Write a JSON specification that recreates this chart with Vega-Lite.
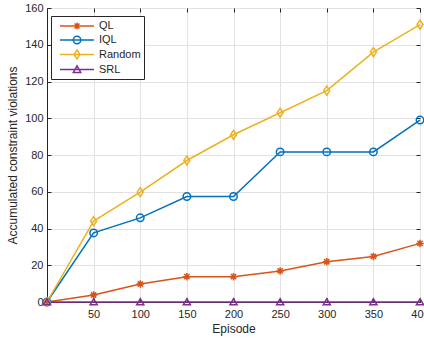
{
  "$schema": "https://vega.github.io/schema/vega-lite/v6.json",
  "width": 373,
  "height": 294,
  "autosize": {"type": "none"},
  "padding": {"left": 47, "top": 8, "right": 4, "bottom": 39},
  "background": "white",
  "config": {
    "font": "Liberation Sans",
    "view": {"stroke": "#262626", "strokeWidth": 1},
    "axis": {
      "labelFont": "Liberation Sans",
      "titleFont": "Liberation Sans",
      "labelFontSize": 11,
      "labelColor": "#262626",
      "titleFontSize": 12,
      "titleFontWeight": "normal",
      "titleColor": "#262626",
      "domainColor": "#262626",
      "tickColor": "#262626",
      "gridColor": "#e2e2e2",
      "gridOpacity": 1,
      "labelFlush": false,
      "labelOverlap": false
    }
  },
  "data": {
    "values": [
      {"series": "QL", "episode": 0, "value": 0},
      {"series": "QL", "episode": 50, "value": 3.8},
      {"series": "QL", "episode": 100, "value": 9.8},
      {"series": "QL", "episode": 150, "value": 13.8},
      {"series": "QL", "episode": 200, "value": 13.8},
      {"series": "QL", "episode": 250, "value": 16.9},
      {"series": "QL", "episode": 300, "value": 21.9},
      {"series": "QL", "episode": 350, "value": 24.8},
      {"series": "QL", "episode": 400, "value": 31.9},
      {"series": "IQL", "episode": 0, "value": 0},
      {"series": "IQL", "episode": 50, "value": 37.6},
      {"series": "IQL", "episode": 100, "value": 45.8},
      {"series": "IQL", "episode": 150, "value": 57.4},
      {"series": "IQL", "episode": 200, "value": 57.4},
      {"series": "IQL", "episode": 250, "value": 81.7},
      {"series": "IQL", "episode": 300, "value": 81.7},
      {"series": "IQL", "episode": 350, "value": 81.7},
      {"series": "IQL", "episode": 400, "value": 99},
      {"series": "Random", "episode": 0, "value": 0},
      {"series": "Random", "episode": 50, "value": 44},
      {"series": "Random", "episode": 100, "value": 59.8},
      {"series": "Random", "episode": 150, "value": 77},
      {"series": "Random", "episode": 200, "value": 91},
      {"series": "Random", "episode": 250, "value": 103},
      {"series": "Random", "episode": 300, "value": 115},
      {"series": "Random", "episode": 350, "value": 136},
      {"series": "Random", "episode": 400, "value": 151},
      {"series": "SRL", "episode": 0, "value": 0},
      {"series": "SRL", "episode": 50, "value": 0},
      {"series": "SRL", "episode": 100, "value": 0},
      {"series": "SRL", "episode": 150, "value": 0},
      {"series": "SRL", "episode": 200, "value": 0},
      {"series": "SRL", "episode": 250, "value": 0},
      {"series": "SRL", "episode": 300, "value": 0},
      {"series": "SRL", "episode": 350, "value": 0},
      {"series": "SRL", "episode": 400, "value": 0}
    ]
  },
  "layer": [
    {
      "mark": {"type": "line", "strokeWidth": 1.5},
      "encoding": {
        "x": {
          "field": "episode",
          "type": "quantitative",
          "scale": {"domain": [0, 400], "nice": false},
          "axis": {
            "orient": "bottom",
            "values": [50, 100, 150, 200, 250, 300, 350, 400],
            "grid": true,
            "tickSize": -4,
            "labelPadding": 10,
            "title": "Episode",
            "titlePadding": 4
          }
        },
        "y": {
          "field": "value",
          "type": "quantitative",
          "scale": {"domain": [0, 160], "nice": false},
          "axis": {
            "orient": "left",
            "values": [0, 20, 40, 60, 80, 100, 120, 140, 160],
            "grid": true,
            "tickSize": -4,
            "labelPadding": 8,
            "title": "Accumulated constraint violations",
            "titlePadding": 5
          }
        },
        "color": {
          "field": "series",
          "type": "nominal",
          "scale": {"domain": ["QL", "IQL", "Random", "SRL"], "range": ["#D95319", "#0072BD", "#EDB120", "#7E2F8E"]},
          "legend": {
            "title": null,
            "orient": "none",
            "legendX": 4,
            "legendY": 8,
            "padding": 3,
            "strokeColor": "#262626",
            "fillColor": "white",
            "symbolSize": 144,
            "symbolStrokeWidth": 1.5,
            "labelOffset": 31,
            "labelFontSize": 11,
            "labelFont": "Liberation Sans",
            "labelColor": "#262626",
            "rowPadding": -0.5,
            "encode": {
              "symbols": {
                "update": {
                  "shape": {"signal": "datum.value === 'QL' ? 'M-0.17,0H5.5M2.07,0H3.27M2.67,-0.6V0.6M2.25,-0.42L3.09,0.42M2.25,0.42L3.09,-0.42' : datum.value === 'IQL' ? 'M-0.17,0H5.5M2.05,0A0.62,0.62 0 1,0 3.29,0A0.62,0.62 0 1,0 2.05,0' : datum.value === 'Random' ? 'M-0.17,0H5.5M2.67,-0.75L3.17,0L2.67,0.75L2.17,0Z' : 'M-0.17,0H5.5M2.67,-0.62L3.29,0.5L2.05,0.5Z'"},
                  "fill": {"value": "transparent"},
                  "strokeWidth": {"value": 1.5}
                }
              }
            }
          }
        }
      }
    },
    {
      "transform": [{"filter": "datum.series === 'QL'"}],
      "mark": {"type": "point", "filled": false, "strokeWidth": 1.5, "size": 56, "opacity": 1, "shape": "M-1,0H1M0,-1V1M-0.7,-0.7L0.7,0.7M-0.7,0.7L0.7,-0.7"},
      "encoding": {
        "x": {
          "field": "episode",
          "type": "quantitative",
          "axis": {
            "orient": "top",
            "values": [50, 100, 150, 200, 250, 300, 350, 400],
            "labels": false,
            "grid": false,
            "domain": false,
            "tickSize": -4,
            "title": null
          }
        },
        "y": {
          "field": "value",
          "type": "quantitative",
          "axis": {
            "orient": "right",
            "values": [0, 20, 40, 60, 80, 100, 120, 140, 160],
            "labels": false,
            "grid": false,
            "domain": false,
            "tickSize": -4,
            "title": null
          }
        },
        "color": {"field": "series", "type": "nominal", "legend": null}
      }
    },
    {
      "transform": [{"filter": "datum.series === 'IQL'"}],
      "mark": {"type": "point", "filled": false, "strokeWidth": 1.5, "size": 56, "opacity": 1, "shape": "circle"},
      "encoding": {
        "x": {"field": "episode", "type": "quantitative", "axis": null},
        "y": {"field": "value", "type": "quantitative", "axis": null},
        "color": {"field": "series", "type": "nominal", "legend": null}
      }
    },
    {
      "transform": [{"filter": "datum.series === 'Random'"}],
      "mark": {"type": "point", "filled": false, "strokeWidth": 1.5, "size": 56, "opacity": 1, "shape": "M0,-1.2L0.8,0L0,1.2L-0.8,0Z"},
      "encoding": {
        "x": {"field": "episode", "type": "quantitative", "axis": null},
        "y": {"field": "value", "type": "quantitative", "axis": null},
        "color": {"field": "series", "type": "nominal", "legend": null}
      }
    },
    {
      "transform": [{"filter": "datum.series === 'SRL'"}],
      "mark": {"type": "point", "filled": false, "strokeWidth": 1.5, "size": 56, "opacity": 1, "shape": "M0,-0.9L0.95,0.75L-0.95,0.75Z"},
      "encoding": {
        "x": {"field": "episode", "type": "quantitative", "axis": null},
        "y": {"field": "value", "type": "quantitative", "axis": null},
        "color": {"field": "series", "type": "nominal", "legend": null}
      }
    }
  ],
  "resolve": {"axis": {"x": "independent", "y": "independent"}}
}
